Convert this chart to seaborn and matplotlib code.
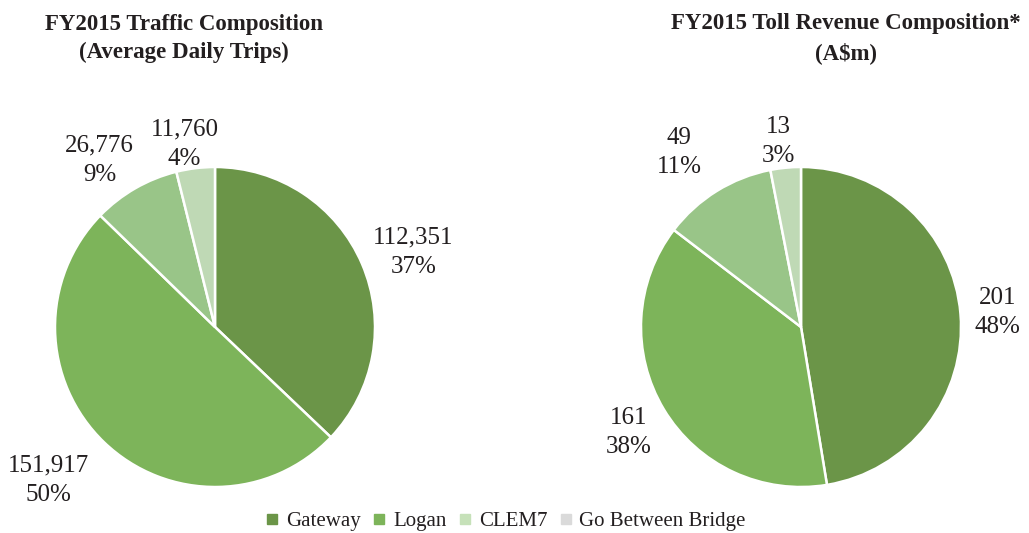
import matplotlib
matplotlib.use("Agg")
import matplotlib.pyplot as plt
import seaborn as sns
from matplotlib.lines import Line2D

# data
roads = ["Gateway", "Logan", "CLEM7", "Go Between Bridge"]
trips = [112351, 151917, 26776, 11760]
trips_pct = [37, 50, 9, 4]
revenue = [201, 161, 49, 13]
revenue_pct = [48, 38, 11, 3]

slice_colors = ["#6b9548", "#7db45a", "#99c588", "#bfd9b5"]
legend_colors = ["#6b9548", "#7db45a", "#c6e1b9", "#dadada"]

# label positions in pie units (radius = 1)
trips_label_xy = [(1.24, 0.47), (-1.04, -0.96), (-0.72, 1.04), (-0.19, 1.14)]
revenue_label_xy = [(1.23, 0.09), (-1.08, -0.66), (-0.76, 1.09), (-0.14, 1.16)]

sns.set_theme(style="white")
plt.rcParams['font.family'] = ['Liberation Serif', 'DejaVu Serif']
text_color = "#231f20"

W, H = 1029, 533
fig = plt.figure(figsize=(W / 100, H / 100), dpi=100)


def pie_axes(cx, cy, r):
    return fig.add_axes([(cx - r) / W, (H - cy - r) / H, 2 * r / W, 2 * r / H])


def draw_pie(ax, values, labels, label_xy):
    ax.pie(values, colors=slice_colors, startangle=90, counterclock=False,
           radius=1, wedgeprops=dict(edgecolor="white", linewidth=1.8))
    for (x, y), lab in zip(label_xy, labels):
        ax.text(x, y, lab, ha="center", va="center", fontsize=18,
                color=text_color, linespacing=1.45)
    ax.set_xlim(-1, 1)
    ax.set_ylim(-1, 1)
    ax.set_aspect("auto")
    ax.axis("off")


ax1 = pie_axes(215, 327, 160)
draw_pie(ax1, trips, [f"{v:,}\n{p}%" for v, p in zip(trips, trips_pct)], trips_label_xy)

ax2 = pie_axes(801, 327, 160)
draw_pie(ax2, revenue, [f"{v}\n{p}%" for v, p in zip(revenue, revenue_pct)], revenue_label_xy)

fig.text(184 / W, 1 - 38.5 / H, "FY2015 Traffic Composition\n(Average Daily Trips)",
         ha="center", va="center", fontsize=16.5, fontweight="bold",
         color=text_color, linespacing=1.42)
fig.text(846 / W, 1 - 38.5 / H, "FY2015 Toll Revenue Composition*\n(A$m)",
         ha="center", va="center", fontsize=16.5, fontweight="bold",
         color=text_color, linespacing=1.42)

handles = [Line2D([], [], marker="s", linestyle="none", markersize=6.5,
                  markerfacecolor=c, markeredgecolor=c) for c in legend_colors]
fig.legend(handles, roads, loc="center", bbox_to_anchor=(506 / W, 1 - 521 / H),
           ncol=4, frameon=False, fontsize=15, handlelength=0.6,
           handletextpad=0.35, columnspacing=0.6, labelcolor=text_color,
           borderpad=0, borderaxespad=0)

fig.savefig("out.png", dpi=100, facecolor="white")
